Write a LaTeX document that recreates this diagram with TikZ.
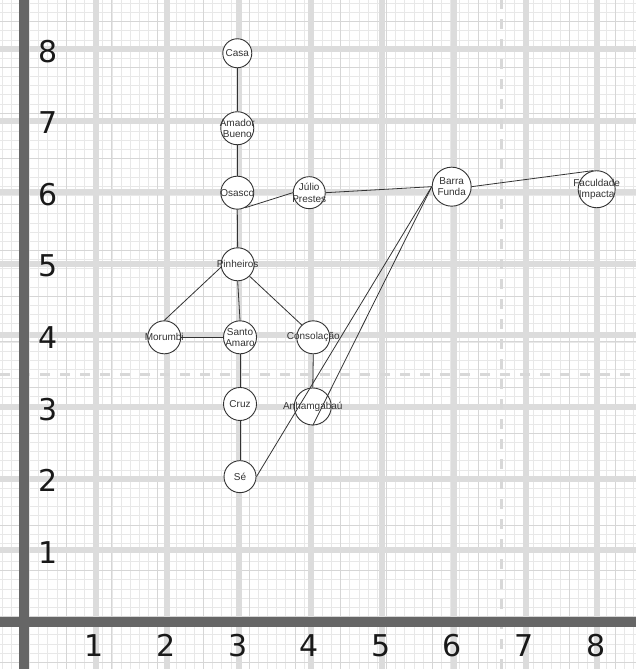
\documentclass[tikz,border=0pt]{standalone}
\usepackage{fontspec}
\setmainfont{Liberation Sans}
\newfontfamily\axisfont{DejaVu Sans}
\definecolor{minorgrid}{HTML}{E8E8E8}
\definecolor{midgrid}{HTML}{D6D6D6}
\definecolor{majorgrid}{HTML}{DCDCDC}
\definecolor{axisgray}{HTML}{666666}
\definecolor{pagedash}{HTML}{D8D8D8}
\definecolor{ink}{HTML}{333333}

\tikzset{
  station/.style={circle, draw=ink, fill=white, line width=0.9pt, inner sep=0pt},
  stationtext/.style={font=\fontsize{10}{11.5}\selectfont, text=ink, align=center, inner sep=0pt},
  track/.style={draw=ink, line width=0.8pt},
  axislabel/.style={font=\axisfont\fontsize{30}{30}\selectfont, text=black!90, inner sep=0pt}
}

\begin{document}
\begin{tikzpicture}[x=71.6pt, y=71.6pt]

\useasboundingbox (-0.339,-0.659) rectangle (8.543,8.684);
\clip (-0.339,-0.659) rectangle (8.543,8.684);
\fill[white] (-0.339,-0.659) rectangle (8.543,8.684);

% paper grid
\begin{scope}[shift={(-0.053,0.074)}]
\draw[minorgrid, line width=0.9pt, step=0.1278] (-0.5,-0.9) grid (8.8,8.8);
\draw[midgrid, line width=1pt, step=0.639] (-0.5,-0.9) grid (8.8,8.8);
\end{scope}

\foreach \i in {1,...,8}
{
	\draw[majorgrid, line width=6pt] (\i,-0.659) -- (\i,8.684);
	\draw[majorgrid, line width=6pt] (-0.339,\i) -- (8.543,\i);
};

% page breaks
\draw[pagedash, line width=3pt, dash pattern=on 10pt off 10pt] (6.658,-0.659) -- (6.658,8.684);
\draw[pagedash, line width=3pt, dash pattern=on 10pt off 10pt] (-0.339,3.447) -- (8.543,3.447);

% axes
\draw[axisgray, line width=10pt] (0,-0.659) -- (0,8.684);
\draw[axisgray, line width=10pt] (-0.339,0) -- (8.543,0);

\foreach \i in {1,...,8}
{
	\node[axislabel] (x\i) at (\i-0.02,-0.335) {\i};
	\node[axislabel] (y\i) at (0.33,\i-0.03) {\i};
};

% stations
\foreach \name/\pos/\size/\txt in {casa/{2.975,7.940}/29/Casa,
				amador/{2.975,6.893}/33/{Amador\\Bueno},
				osasco/{2.975,5.993}/33/Osasco,
				julio/{3.980,5.993}/32/{Júlio\\Prestes},
				pinheiros/{2.980,4.993}/33/Pinheiros,
				morumbi/{1.955,3.973}/33/Morumbi,
				santo/{3.013,3.973}/33/{Santo\\Amaro},
				consolacao/{4.036,3.973}/33/Consolação,
				cruz/{3.013,3.042}/33/Cruz,
				anhangabau/{4.029,3.007}/37/Anhamgabaú,
				se/{3.013,2.027}/32/Sé,
				barra/{5.969,6.077}/39/{Barra\\Funda},
				impacta/{7.994,6.041}/37/{Faculdade\\Impacta}}
{
	\node[station, minimum size=\size pt] (\name) at (\pos) {};
	\node[stationtext] (\name txt) at (\name) {\txt};
};

% lines
\foreach \a/\b in {casa.south/amador.north, amador.south/osasco.north,
			osasco.south/pinheiros.north, osasco.-63/julio.west,
			julio.east/barra.west, barra.east/impacta.100,
			pinheiros.190/morumbi.north, pinheiros.south/santo.north,
			pinheiros.-45/consolacao.133, morumbi.east/santo.west,
			santo.south/cruz.north, cruz.south/se.north,
			consolacao.south/anhangabau.north,
			se.east/barra.west, anhangabau.south/barra.west}
{
	\draw[track] (\a) -- (\b);
};
\end{tikzpicture}
\end{document}
